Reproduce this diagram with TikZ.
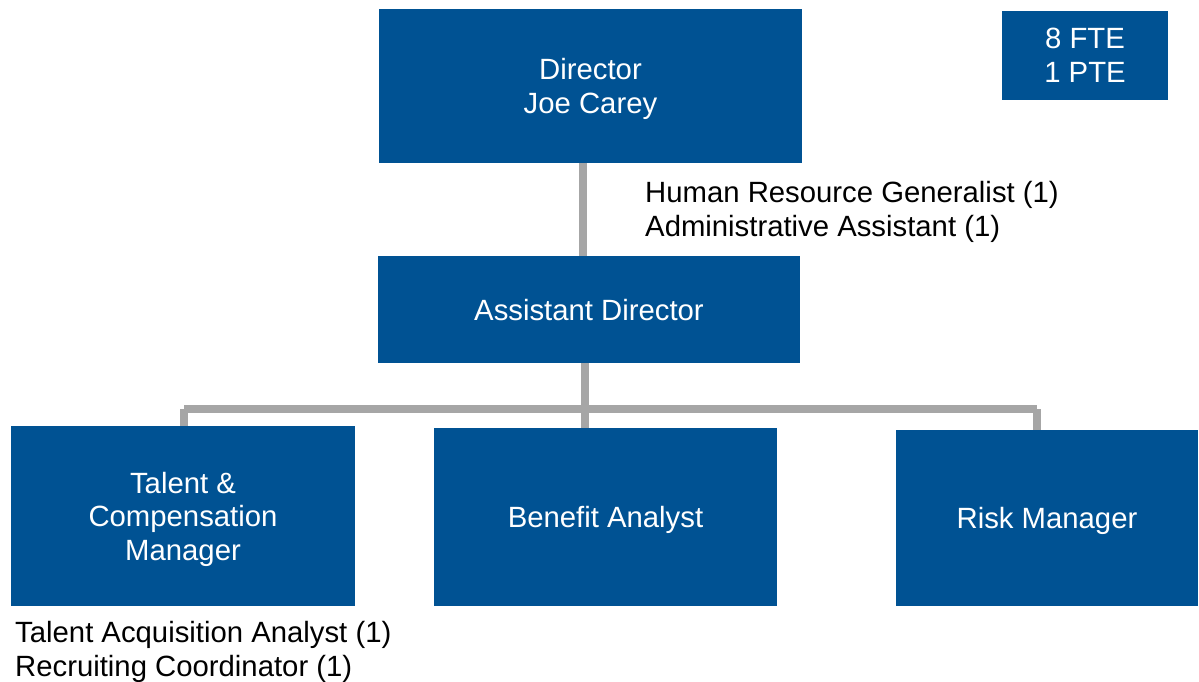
\documentclass[tikz,border=0pt]{standalone}
\usepackage{fontspec}
\setmainfont{Liberation Sans}
\usetikzlibrary{positioning}
\definecolor{boxblue}{RGB}{0,82,147}
\definecolor{linegray}{RGB}{166,166,166}
\tikzstyle{unit}=[rectangle,fill=boxblue,text=white,align=center,inner sep=0pt,text depth=0pt,font=\fontsize{29.3}{33.5}\selectfont]
\tikzstyle{link} = [draw,linegray,line width=8pt]
\tikzstyle{staff} = [anchor=north west,align=left,inner sep=0pt,font=\fontsize{29.3}{34}\selectfont]

\begin{document}
\begin{tikzpicture}[x=1pt,y=1pt]
    \useasboundingbox (0,0) rectangle (1199,-682);
    \foreach \pos/\name/\w/\h/\txt in {{(590.5,-86)/dir/423/154/Director\\Joe Carey},
    {(1085,-55.5)/fte/166/89/8 FTE\\1 PTE},{(589,-309.5)/asst/422/107/Assistant Director},
    {(183,-516)/talent/344/180/Talent \&\\Compensation\\Manager},
    {(605.5,-517)/benefit/343/178/Benefit Analyst},{(1047,-518)/risk/302/176/Risk Manager}}
        \node[unit,minimum width=\w pt,minimum height=\h pt] (\name) at \pos {\txt};

    % bus between assistant director and the three managers
    \coordinate (busL) at (184,-409);
    \coordinate (busC) at (585,-409);
    \coordinate (busR) at (1037,-409);

    \path[link] (dir.south -| 583,0) -- (asst.north -| 583,0);
    \path[link] (asst.south -| busC) -- (busC);
    \path[link] (busL) -- (busR);
    \path[link] (busL) -- (talent.north -| busL);
    \path[link] (busC) -- (benefit.north -| busC);
    \path[link] (busR) -- (risk.north -| busR);

    \node[staff] (dirstaff) at (645,-181) {Human Resource Generalist (1)\\Administrative Assistant (1)};
    \node[staff] (talentstaff) at (15,-621) {Talent Acquisition Analyst (1)\\Recruiting Coordinator (1)};
\end{tikzpicture}
\end{document}
